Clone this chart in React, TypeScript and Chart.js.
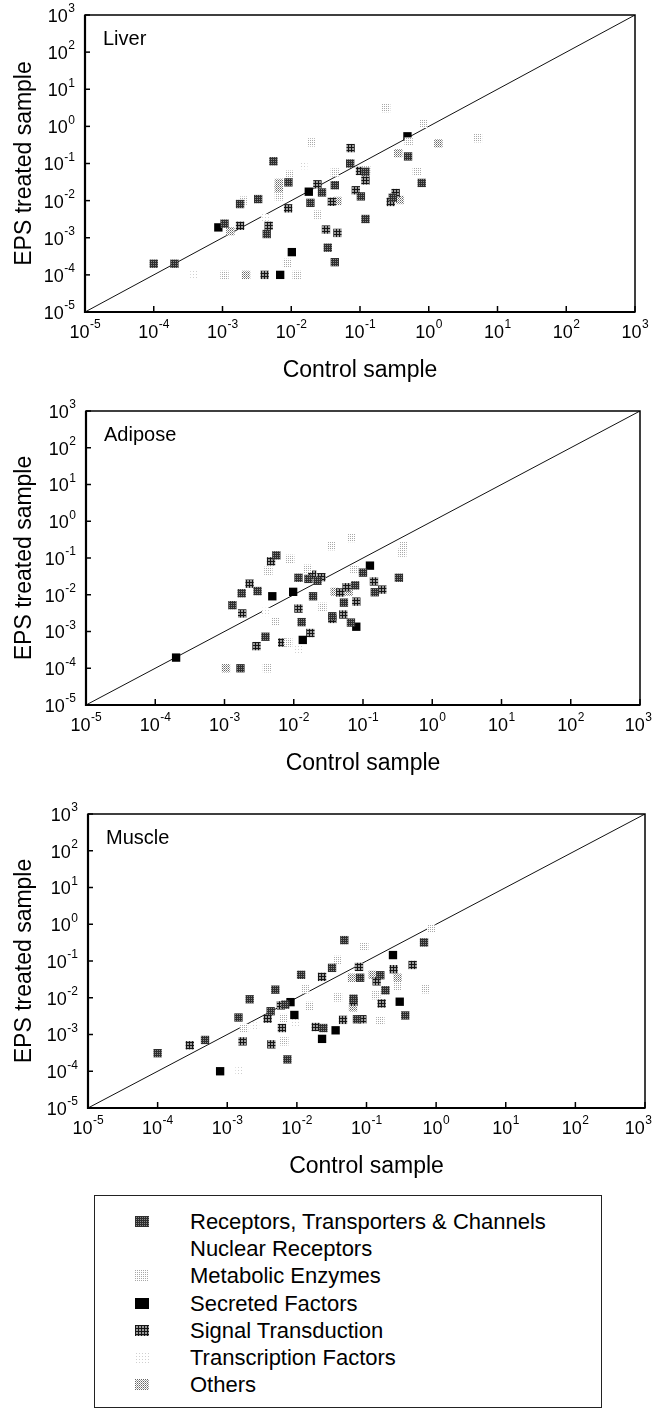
import React, { useEffect, useRef } from "react";
import { Chart, registerables } from "chart.js";

Chart.register(...registerables);

const FONT = '"Liberation Sans", Arial, Helvetica, sans-serif';

// ---------- data ----------
const CATEGORIES = [
  "Receptors, Transporters & Channels",
  "Nuclear Receptors",
  "Metabolic Enzymes",
  "Secreted Factors",
  "Signal Transduction",
  "Transcription Factors",
  "Others",
];
const PANEL_NAMES = ["Liver", "Adipose", "Muscle"];
const X_TITLE = "Control sample";
const Y_TITLE = "EPS treated sample";
const TICK_EXPONENTS = [-5, -4, -3, -2, -1, 0, 1, 2, 3];
const AXIS_MIN = 1e-5;
const AXIS_MAX = 1e3;
const DIAGONAL: [number, number][] = [[1e-5, 1e-5], [1e3, 1e3]];

type Pt = [number, number];

// Liver
const LIVER_RECEPTORS: Pt[] = [
  [1e-4, 2e-4], [2e-4, 2e-4], [1.07e-3, 2.4e-3], [1.8e-3, 8.1e-3], [3.3e-3, 1.1e-2],
  [5.5e-3, 0.115], [4.4e-3, 1.26e-3], [9.1e-3, 0.031], [1.9e-2, 8.7e-3], [2.8e-2, 1.66e-2],
  [3.4e-2, 5.4e-4], [4.3e-2, 2.6e-2], [4.3e-2, 2.2e-4], [7.2e-2, 0.1], [0.103, 1.3e-2],
  [0.12, 0.06], [0.12, 3.2e-3], [0.3, 1.2e-2], [0.5, 0.155], [0.79, 0.03],
];
const LIVER_NUCLEAR: Pt[] = [];
const LIVER_METABOLIC: Pt[] = [
  [1.07e-3, 1e-4], [1.2e-2, 1e-4], [8.7e-3, 2.1e-4], [2.4e-2, 4.2e-3], [2e-3, 1e-2],
  [6.6e-3, 0.013], [9.5e-3, 0.05], [1.95e-2, 0.37], [4.3e-2, 0.057], [0.123, 0.066],
  [0.24, 3.1], [0.51, 0.39], [0.83, 1.17], [0.67, 0.06], [5.2, 0.48],
];
const LIVER_SECRETED: Pt[] = [
  [8.7e-4, 1.9e-3], [6.9e-3, 1e-4], [1.02e-2, 4.1e-4], [1.8e-2, 1.74e-2], [0.49, 0.54],
];
const LIVER_SIGNAL: Pt[] = [
  [1.8e-3, 2.1e-3], [4.7e-3, 2.1e-3], [4.1e-3, 1e-4], [9e-3, 6.2e-3], [2.4e-2, 2.75e-2],
  [3.2e-2, 1.66e-3], [3.9e-2, 9.3e-3], [4.7e-2, 1.35e-3], [7.3e-2, 0.26], [8.7e-2, 1.9e-2],
  [0.1, 0.063], [0.12, 0.035], [0.28, 9.2e-3], [0.33, 1.6e-2],
];
const LIVER_TRANSCRIPTION: Pt[] = [[3.9e-4, 1e-4], [4.2e-3, 3.4e-3], [1.5e-2, 0.09]];
const LIVER_OTHERS: Pt[] = [
  [1.3e-3, 1.5e-3], [2.2e-3, 1e-4], [6.6e-3, 0.03], [6.6e-3, 0.02], [4.7e-2, 9.8e-3],
  [0.36, 0.19], [0.38, 0.0104], [1.38, 0.35],
];

// Adipose
const ADIPOSE_RECEPTORS: Pt[] = [
  [1.7e-3, 1e-4], [1.3e-3, 5.2e-3], [1.77e-3, 1.1e-2], [3e-3, 1.26e-2], [3.9e-3, 7.2e-4],
  [5.6e-3, 0.118], [1.17e-2, 0.029], [1.3e-2, 1.8e-3], [1.63e-2, 0.027], [2.2e-2, 0.024],
  [1.9e-2, 9.1e-3], [3.6e-2, 2.6e-3], [5.3e-2, 6.1e-3], [6.7e-2, 1.75e-3], [7.7e-2, 0.018],
  [0.1, 0.04], [0.148, 0.0117], [0.33, 0.029],
];
const ADIPOSE_NUCLEAR: Pt[] = [];
const ADIPOSE_METABOLIC: Pt[] = [
  [4.1e-3, 1e-4], [5.5e-3, 1.9e-3], [4.3e-3, 0.045], [8.9e-3, 0.095], [8.3e-3, 5e-4],
  [1.6e-2, 0.051], [2.6e-2, 4.7e-3], [3.5e-2, 0.21], [6.9e-2, 0.35], [7.5e-2, 0.048],
  [0.38, 0.22], [0.37, 0.14],
];
const ADIPOSE_SECRETED: Pt[] = [
  [2e-4, 1.95e-4], [4.9e-3, 9.1e-3], [9.8e-3, 1.2e-2], [1.35e-2, 5.9e-4], [8e-2, 1.35e-3],
  [0.126, 0.062],
];
const ADIPOSE_SIGNAL: Pt[] = [
  [1.8e-3, 3.1e-3], [2.3e-3, 2e-2], [2.9e-3, 4e-4], [4.7e-3, 0.081], [6.8e-3, 5e-4],
  [1.17e-2, 4.2e-3], [1.74e-2, 9.1e-4], [1.85e-2, 0.035], [2.5e-2, 0.03], [3.6e-2, 2.2e-3],
  [4.7e-2, 1.15e-2], [5.2e-2, 2.9e-3], [5.8e-2, 1.6e-2], [8e-2, 6.5e-3], [0.144, 0.023],
  [0.19, 0.0138],
];
const ADIPOSE_TRANSCRIPTION: Pt[] = [[4e-3, 3.4e-3], [1.2e-2, 3.1e-4]];
const ADIPOSE_OTHERS: Pt[] = [[1.05e-3, 1e-4], [3.9e-2, 0.012], [6.2e-2, 0.012]];

// Muscle
const MUSCLE_RECEPTORS: Pt[] = [
  [1e-4, 3.1e-4], [4.8e-4, 7.1e-4], [1.45e-3, 2.9e-3], [2.1e-3, 9.1e-3], [4.2e-3, 4.3e-3],
  [4.9e-3, 0.0166], [6.8e-3, 6.5e-3], [7.3e-3, 2.1e-4], [1.15e-2, 0.042], [2.4e-2, 1.5e-3],
  [3.2e-2, 0.065], [4.8e-2, 0.37], [6.5e-2, 9.4e-3], [8.1e-2, 0.035], [7.3e-2, 2.6e-3],
  [0.158, 0.041], [0.187, 0.016], [0.36, 3.3e-3], [0.67, 0.32],
];
const MUSCLE_NUCLEAR: Pt[] = [];
const MUSCLE_METABOLIC: Pt[] = [
  [1.74e-3, 1.5e-3], [6.5e-3, 2.8e-3], [6.6e-3, 6.5e-4], [1.32e-2, 0.017], [1.5e-2, 6e-3],
  [3.8e-2, 0.107], [3.9e-2, 1.02e-2], [9.3e-2, 0.245], [0.138, 0.0117], [0.158, 2.4e-3],
  [0.28, 0.021], [0.7, 0.017], [0.85, 0.76],
];
const MUSCLE_SECRETED: Pt[] = [
  [7.9e-4, 1e-4], [8.1e-3, 7.6e-3], [9.2e-3, 3.4e-3], [2.3e-2, 7.6e-4], [3.6e-2, 1.3e-3],
  [0.24, 0.145], [0.3, 7.8e-3],
];
const MUSCLE_SIGNAL: Pt[] = [
  [2.9e-4, 5.1e-4], [1.66e-3, 6.5e-4], [3.8e-3, 2.7e-3], [4.3e-3, 5.4e-4], [5.9e-3, 6.2e-3],
  [6.1e-3, 1.5e-3], [1.87e-2, 1.6e-3], [2.3e-2, 0.037], [4.6e-2, 2.5e-3], [6.5e-2, 7.8e-3],
  [7.8e-2, 0.069], [8.7e-2, 2.6e-3], [0.14, 0.028], [0.165, 7e-3], [0.245, 0.06],
  [0.46, 0.078],
];
const MUSCLE_TRANSCRIPTION: Pt[] = [[1.5e-3, 1e-4], [2.5e-3, 1.65e-3], [9.5e-3, 2.1e-3]];
const MUSCLE_OTHERS: Pt[] = [[6.2e-2, 0.035], [6.4e-2, 5.5e-3], [0.123, 0.042], [0.28, 0.035]];

const LIVER_DATA = [LIVER_RECEPTORS, LIVER_NUCLEAR, LIVER_METABOLIC, LIVER_SECRETED, LIVER_SIGNAL, LIVER_TRANSCRIPTION, LIVER_OTHERS];
const ADIPOSE_DATA = [ADIPOSE_RECEPTORS, ADIPOSE_NUCLEAR, ADIPOSE_METABOLIC, ADIPOSE_SECRETED, ADIPOSE_SIGNAL, ADIPOSE_TRANSCRIPTION, ADIPOSE_OTHERS];
const MUSCLE_DATA = [MUSCLE_RECEPTORS, MUSCLE_NUCLEAR, MUSCLE_METABOLIC, MUSCLE_SECRETED, MUSCLE_SIGNAL, MUSCLE_TRANSCRIPTION, MUSCLE_OTHERS];
const PANEL_DATA = [LIVER_DATA, ADIPOSE_DATA, MUSCLE_DATA];

// ---------- styles ----------
type FillSpec = { bg: string; tile: number; dots: [number, number, string][] };
const CATEGORY_FILLS: FillSpec[] = [
  { bg: "#2e2e2e", tile: 2, dots: [[1, 1, "#8a8a8a"]] },
  { bg: "rgba(255,255,255,0)", tile: 1, dots: [] },
  { bg: "#ffffff", tile: 2, dots: [[0, 0, "#a8a8a8"]] },
  { bg: "#000000", tile: 1, dots: [] },
  { bg: "#151515", tile: 3, dots: [[1, 1, "#9a9a9a"], [2, 1, "#9a9a9a"], [1, 2, "#9a9a9a"], [2, 2, "#9a9a9a"]] },
  { bg: "#ffffff", tile: 3, dots: [[1, 1, "#cfcfcf"]] },
  { bg: "#ffffff", tile: 2, dots: [[0, 0, "#666666"], [1, 1, "#a0a0a0"]] },
];

const PANEL_LAYOUT = [
  { top: 0, height: 392, yAxisWidth: 85, padRight: 19 },
  { top: 396, height: 389, yAxisWidth: 86, padRight: 14 },
  { top: 799, height: 389, yAxisWidth: 88, padRight: 9 },
];
const PAD_TOP = 15;
const X_AXIS_HEIGHT = 80;
const PAGE_W = 654;

function makeFill(ctx: CanvasRenderingContext2D, f: FillSpec): any {
  if (!f.dots.length) return f.bg;
  const c = document.createElement("canvas");
  c.width = f.tile;
  c.height = f.tile;
  const g = c.getContext("2d")!;
  g.fillStyle = f.bg;
  g.fillRect(0, 0, f.tile, f.tile);
  f.dots.forEach(([x, y, col]) => {
    g.fillStyle = col;
    g.fillRect(x, y, 1, 1);
  });
  return ctx.createPattern(c, "repeat");
}

function drawPow(ctx: CanvasRenderingContext2D, x: number, y: number, e: number, align: "center" | "right") {
  ctx.textAlign = "left";
  ctx.textBaseline = "middle";
  ctx.font = `18px ${FONT}`;
  const wb = ctx.measureText("10").width;
  ctx.font = `12px ${FONT}`;
  const ex = String(e);
  const we = ctx.measureText(ex).width;
  const total = wb + we + 0.5;
  let start = align === "center" ? x - total / 2 : x - total;
  if (start + total > PAGE_W - 2) start = PAGE_W - 2 - total;
  ctx.font = `18px ${FONT}`;
  ctx.fillText("10", start, y);
  ctx.font = `12px ${FONT}`;
  ctx.fillText(ex, start + wb + 0.5, y - 8);
}

const decorPlugin = {
  id: "decor",
  afterDraw(chart: any, _args: any, opts: any) {
    const { ctx, chartArea: a } = chart;
    const xs = chart.scales.x;
    const ys = chart.scales.y;
    ctx.save();
    ctx.strokeStyle = "#000";
    ctx.lineWidth = 1.5;
    ctx.strokeRect(a.left, a.top, a.right - a.left, a.bottom - a.top);
    ctx.lineWidth = 2.2;
    ctx.beginPath();
    ctx.moveTo(a.left, a.top);
    ctx.lineTo(a.left, a.bottom);
    ctx.lineTo(a.right, a.bottom);
    ctx.stroke();
    ctx.lineWidth = 1.5;
    TICK_EXPONENTS.forEach((e) => {
      const px = xs.getPixelForValue(Math.pow(10, e));
      ctx.beginPath();
      ctx.moveTo(px, a.bottom);
      ctx.lineTo(px, a.bottom - 6);
      ctx.stroke();
      const py = ys.getPixelForValue(Math.pow(10, e));
      ctx.beginPath();
      ctx.moveTo(a.left, py);
      ctx.lineTo(a.left + 5, py);
      ctx.stroke();
    });
    ctx.fillStyle = "#000";
    TICK_EXPONENTS.forEach((e) => {
      drawPow(ctx, xs.getPixelForValue(Math.pow(10, e)), a.bottom + 21, e, "center");
      drawPow(ctx, a.left - 10, ys.getPixelForValue(Math.pow(10, e)) + 2, e, "right");
    });
    ctx.font = `20px ${FONT}`;
    ctx.textBaseline = "alphabetic";
    ctx.textAlign = "left";
    ctx.fillText(opts.name, a.left + 18, a.top + 30);
    ctx.restore();
  },
};

function Panel({ index }: { index: number }) {
  const ref = useRef<HTMLCanvasElement>(null);
  const layout = PANEL_LAYOUT[index];
  useEffect(() => {
    const canvas = ref.current!;
    const ctx = canvas.getContext("2d")!;
    const fills = CATEGORY_FILLS.map((f) => makeFill(ctx, f));
    const data = PANEL_DATA[index];
    const datasets: any[] = CATEGORIES.map((label, i) => ({
      label,
      data: data[i].map(([x, y]) => ({ x, y })),
      pointStyle: "rect",
      pointRadius: 5.9,
      pointBackgroundColor: fills[i],
      backgroundColor: fills[i],
      pointBorderWidth: 0,
      borderColor: "rgba(0,0,0,0)",
    }));
    datasets.push({
      label: "diagonal",
      data: DIAGONAL.map(([x, y]) => ({ x, y })),
      showLine: true,
      borderColor: "#111",
      borderWidth: 1,
      pointRadius: 0,
      fill: false,
    });
    const chart = new Chart(canvas, {
      type: "scatter",
      data: { datasets },
      options: {
        animation: false,
        responsive: false,
        maintainAspectRatio: false,
        events: [],
        layout: { padding: { left: 0, right: layout.padRight, top: PAD_TOP, bottom: 0 } },
        plugins: {
          legend: { display: false },
          tooltip: { enabled: false },
          decor: { name: PANEL_NAMES[index] },
        } as any,
        scales: {
          x: {
            type: "logarithmic",
            min: AXIS_MIN,
            max: AXIS_MAX,
            grid: { display: false },
            border: { display: false },
            ticks: { display: false },
            title: {
              display: true,
              text: X_TITLE,
              color: "#000",
              font: { family: FONT, size: 23 },
              padding: { top: 0, bottom: 8 },
            },
            afterFit: (s: any) => {
              s.height = X_AXIS_HEIGHT;
            },
          },
          y: {
            type: "logarithmic",
            min: AXIS_MIN,
            max: AXIS_MAX,
            grid: { display: false },
            border: { display: false },
            ticks: { display: false },
            title: {
              display: true,
              text: Y_TITLE,
              color: "#000",
              font: { family: FONT, size: 23 },
              padding: { top: 11, bottom: 0 },
            },
            afterFit: (s: any) => {
              s.width = layout.yAxisWidth;
            },
          },
        },
      } as any,
      plugins: [decorPlugin as any],
    });
    return () => chart.destroy();
  }, []);
  return (
    <canvas
      ref={ref}
      width={PAGE_W}
      height={layout.height}
      style={{ position: "absolute", left: 0, top: layout.top, width: PAGE_W, height: layout.height }}
    />
  );
}

function Swatch({ index }: { index: number }) {
  const ref = useRef<HTMLCanvasElement>(null);
  useEffect(() => {
    const c = ref.current!;
    const ctx = c.getContext("2d")!;
    ctx.clearRect(0, 0, c.width, c.height);
    ctx.fillStyle = makeFill(ctx, CATEGORY_FILLS[index]);
    ctx.fillRect(0, 0, c.width, c.height);
  }, []);
  return <canvas ref={ref} width={14} height={11} style={{ position: "absolute", left: 40, top: 8 }} />;
}

const LEGEND_ROW = 27.3;

export default function App() {
  return (
    <div
      style={{
        position: "absolute",
        left: 0,
        top: 0,
        width: PAGE_W,
        height: 1413,
        background: "#fff",
        overflow: "hidden",
      }}
    >
      {PANEL_NAMES.map((_, i) => (
        <Panel key={i} index={i} />
      ))}
      <div
        style={{
          position: "absolute",
          left: 94,
          top: 1195,
          width: 508,
          height: 213,
          border: "1px solid #222",
          boxSizing: "border-box",
          fontFamily: FONT,
          fontSize: 22,
          lineHeight: `${LEGEND_ROW}px`,
          color: "#000",
        }}
      >
        {CATEGORIES.map((c, i) => (
          <div key={c} style={{ position: "absolute", left: 0, top: 11.6 + i * LEGEND_ROW, height: LEGEND_ROW, width: 500 }}>
            <Swatch index={i} />
            <span style={{ position: "absolute", left: 95, top: 0, whiteSpace: "nowrap" }}>{c}</span>
          </div>
        ))}
      </div>
    </div>
  );
}
